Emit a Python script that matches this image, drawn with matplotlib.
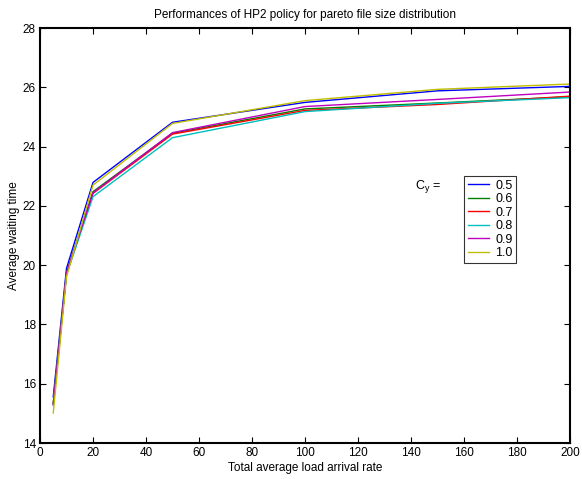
import matplotlib
matplotlib.use("Agg")
import matplotlib.pyplot as plt

plt.rcParams['font.family'] = ['Liberation Sans', 'DejaVu Sans']

x = [5, 10, 20, 50, 100, 150, 200]
labels = ['0.5', '0.6', '0.7', '0.8', '0.9', '1.0']
cy05 = [15.56, 19.89, 22.79, 24.82, 25.49, 25.88, 26.03]
cy06 = [15.35, 19.74, 22.48, 24.45, 25.27, 25.47, 25.68]
cy07 = [15.33, 19.70, 22.42, 24.42, 25.22, 25.42, 25.70]
cy08 = [15.30, 19.68, 22.31, 24.30, 25.18, 25.46, 25.65]
cy09 = [15.28, 19.73, 22.44, 24.47, 25.35, 25.59, 25.84]
cy10 = [15.01, 19.61, 22.70, 24.78, 25.55, 25.93, 26.11]
series = [cy05, cy06, cy07, cy08, cy09, cy10]
colors = [(0, 0, 1), (0, 0.5, 0), (1, 0, 0), (0, 0.75, 0.75), (0.75, 0, 0.75), (0.75, 0.75, 0)]

fig = plt.figure(figsize=(5.82, 4.79), dpi=100)
ax = fig.add_axes([40/582, 36/479, 530/582, 415/479])
for s, c, l in zip(series, colors, labels):
    ax.plot(x, s, color=c, lw=1.0, label=l)

ax.set_xlim(0, 200)
ax.set_ylim(14, 28)
ax.set_xticks(range(0, 201, 20))
ax.set_yticks(range(14, 29, 2))
ax.tick_params(direction='in', top=True, right=True, labelsize=8.5, length=4, width=0.8, pad=3)
for sp in ax.spines.values():
    sp.set_linewidth(1.5)
ax.set_xlabel('Total average load arrival rate', fontsize=8.5, labelpad=2)
ax.set_ylabel('Average waiting time', fontsize=8.5, labelpad=2)
ax.set_title('Performances of HP2 policy for pareto file size distribution', fontsize=8.5, pad=7)

leg = ax.legend(loc='upper left', bbox_to_anchor=(424/530, 1 - (176-28)/415), fontsize=9,
                frameon=True, fancybox=False, edgecolor='black', handlelength=1.7,
                handletextpad=0.5, borderpad=0.3, labelspacing=0.12, borderaxespad=0)
leg.get_frame().set_linewidth(0.8)
fig.text(415/582, 1 - 187/479, r'C$_\mathregular{y}$ =', fontsize=9, va='center')
fig.savefig('out.png', dpi=100)
